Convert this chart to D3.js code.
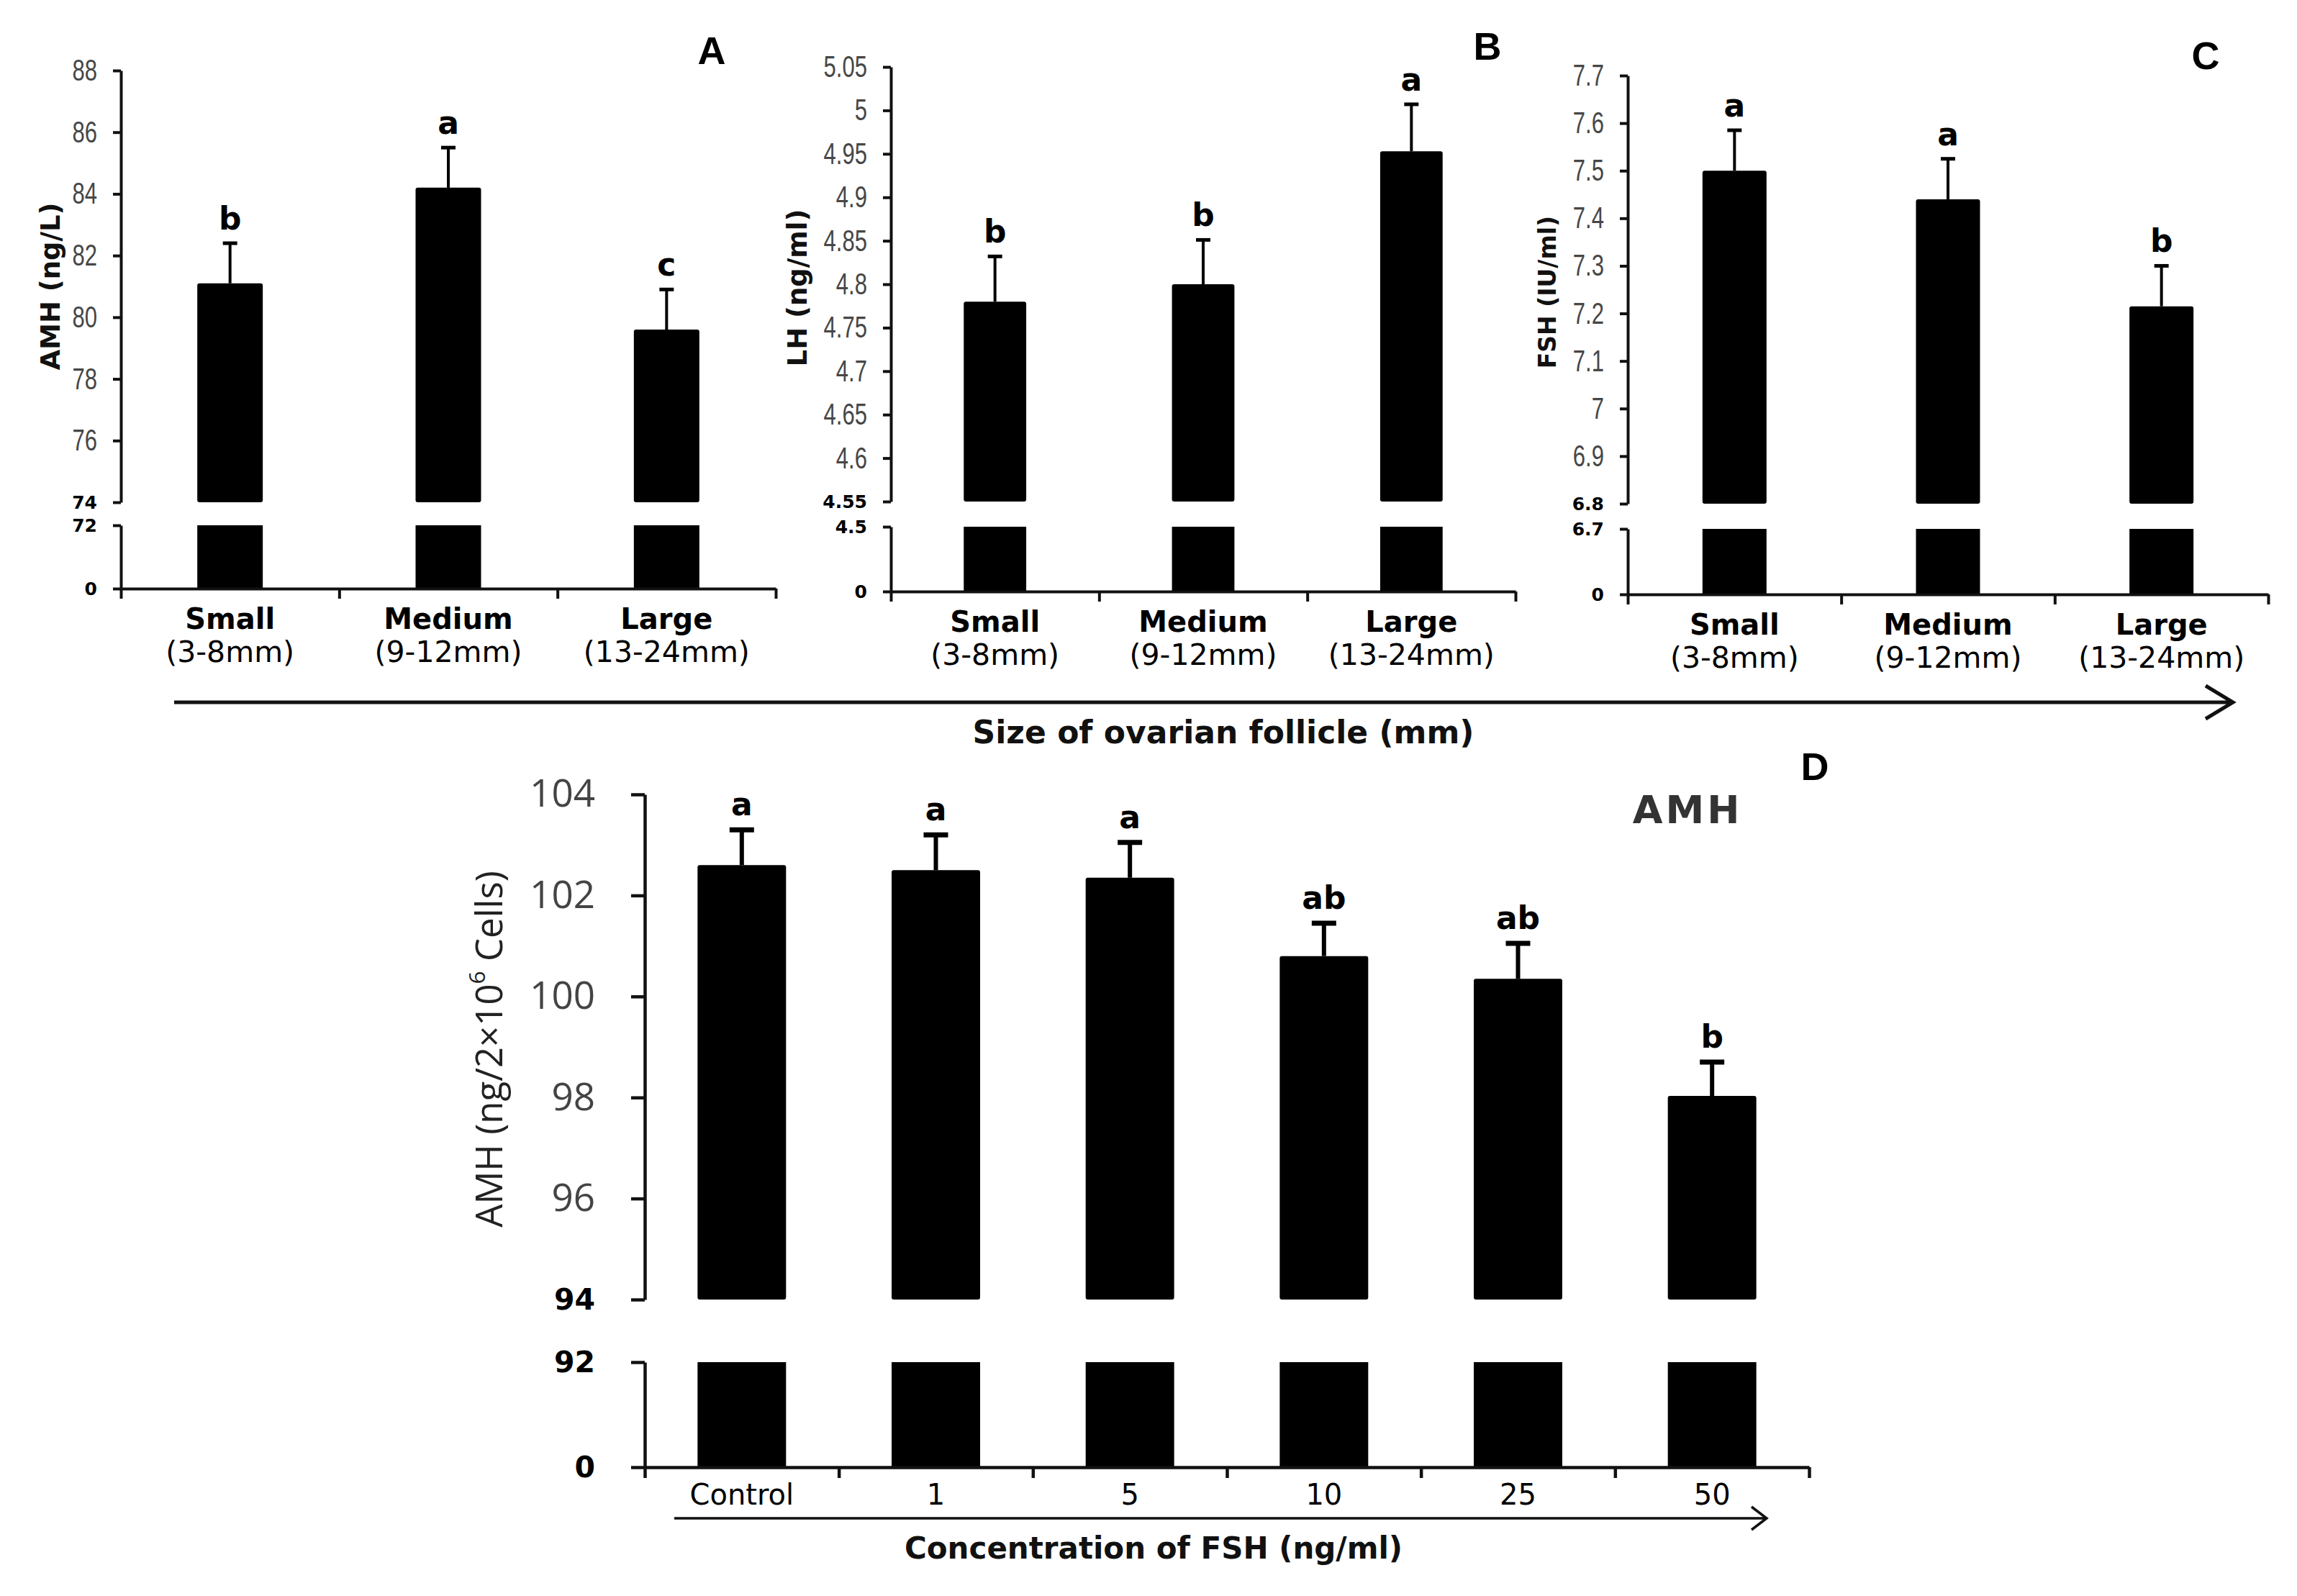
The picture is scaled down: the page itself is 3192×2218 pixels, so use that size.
<!DOCTYPE html>
<html>
<head>
<meta charset="utf-8">
<script src="https://cdn.jsdelivr.net/npm/d3@7/dist/d3.min.js"></script>
<style>
  html, body { margin: 0; padding: 0; background: #fff; }
  svg { display: block; }
</style>
</head>
<body>
<svg id="chart" width="3192" height="2218"></svg>
<script>
// ---------------- DATA ----------------
const sizeCats = ["Small", "Medium", "Large"];
const sizeRanges = ["(3-8mm)", "(9-12mm)", "(13-24mm)"];

const amhA = [81.1, 84.2, 79.6];
const amhAErr = [1.3, 1.3, 1.3];
const amhALetters = ["b", "a", "c"];
const amhATicks = [74, 76, 78, 80, 82, 84, 86, 88];
const amhABreak = [72, 0];

const lhB = [4.78, 4.80, 4.953];
const lhBErr = [0.052, 0.051, 0.054];
const lhBLetters = ["b", "b", "a"];
const lhBTicks = [4.55, 4.6, 4.65, 4.7, 4.75, 4.8, 4.85, 4.9, 4.95, 5, 5.05];
const lhBBreak = [4.5, 0];

const fshC = [7.50, 7.44, 7.215];
const fshCErr = [0.085, 0.085, 0.085];
const fshCLetters = ["a", "a", "b"];
const fshCTicks = [6.8, 6.9, 7, 7.1, 7.2, 7.3, 7.4, 7.5, 7.6, 7.7];
const fshCBreak = [6.7, 0];

const fshConc = ["Control", "1", "5", "10", "25", "50"];
const amhD = [102.6, 102.5, 102.35, 100.8, 100.35, 98.03];
const amhDErr = [0.7, 0.7, 0.7, 0.65, 0.7, 0.67];
const amhDLetters = ["a", "a", "a", "ab", "ab", "b"];
const amhDTicks = [94, 96, 98, 100, 102, 104];
const amhDBreak = [92, 0];

// ---------------- DRAWING ----------------
const svg = d3.select("#chart");
svg.append("rect").attr("width", 3192).attr("height", 2218).attr("fill", "#fff");

const fmt = v => String(+v.toFixed(2));

function drawPanel(o) {
  const g = svg.append("g");
  const n = o.cats.length;
  const x = d3.scaleBand().domain(d3.range(n)).range([o.x0, o.x1]).paddingInner(0).paddingOuter(0);
  const step = x.step();
  const bw = step * o.barFrac;
  const yU = d3.scaleLinear().domain([o.ticks[0], o.ticks[o.ticks.length - 1]]).range([o.yUB, o.yTop]);
  const yL = d3.scaleLinear().domain([0, o.brk[0]]).range([o.yZero, o.yLT]);

  // bars - upper segment
  g.selectAll("rect.bu").data(o.vals).join("rect")
    .attr("x", (d, i) => x(i) + (step - bw) / 2)
    .attr("y", d => yU(d))
    .attr("width", bw)
    .attr("height", d => yU(o.ticks[0]) - yU(d))
    .attr("rx", 3)
    .attr("fill", "#000");
  // bars - lower segment
  g.selectAll("rect.bl").data(o.vals).join("rect")
    .attr("x", (d, i) => x(i) + (step - bw) / 2)
    .attr("y", yL(o.brk[0]))
    .attr("width", bw)
    .attr("height", yL(0) - yL(o.brk[0]))
    .attr("fill", "#000");

  // error bars
  g.selectAll("line.err").data(o.vals).join("line")
    .attr("x1", (d, i) => x(i) + step / 2).attr("x2", (d, i) => x(i) + step / 2)
    .attr("y1", d => yU(d)).attr("y2", (d, i) => yU(d + o.errs[i]))
    .attr("stroke", "#000").attr("stroke-width", o.errW);
  g.selectAll("line.cap").data(o.vals).join("line")
    .attr("x1", (d, i) => x(i) + step / 2 - o.capW / 2).attr("x2", (d, i) => x(i) + step / 2 + o.capW / 2)
    .attr("y1", (d, i) => yU(d + o.errs[i])).attr("y2", (d, i) => yU(d + o.errs[i]))
    .attr("stroke", "#000").attr("stroke-width", o.capT);

  // letters
  g.selectAll("text.let").data(o.letters).join("text")
    .attr("x", (d, i) => x(i) + step / 2)
    .attr("y", (d, i) => yU(o.vals[i] + o.errs[i]) - o.letGap)
    .attr("text-anchor", "middle")
    .attr("font-family", "DejaVu Sans").attr("font-weight", "bold")
    .attr("font-size", o.letSize).attr("fill", "#000")
    .text(d => d);

  // y axis upper
  const axU = g.append("g").attr("transform", `translate(${o.x0},0)`)
    .call(d3.axisLeft(yU).tickValues(o.ticks).tickFormat(fmt).tickSize(o.tickLen).tickSizeOuter(0).tickPadding(o.tickPad));
  // y axis lower
  const axL = g.append("g").attr("transform", `translate(${o.x0},0)`)
    .call(d3.axisLeft(yL).tickValues(o.brk).tickFormat(fmt).tickSize(o.tickLen).tickSizeOuter(0).tickPadding(o.tickPad));
  [axU, axL].forEach(ax => {
    ax.select(".domain").attr("stroke", "#111").attr("stroke-width", o.axW);
    ax.selectAll(".tick line").attr("stroke", "#111").attr("stroke-width", o.axW);
  });
  const off = -(o.tickLen + o.tickPad);
  axU.selectAll(".tick text")
    .attr("font-family", o.tickFont).attr("font-size", o.tickSize)
    .attr("fill", o.tickColor).attr("font-weight", "normal")
    .attr("x", off / o.tickSX).attr("transform", `scale(${o.tickSX},1)`);
  axU.selectAll(".tick text").filter(d => d === o.ticks[0])
    .attr("font-family", "DejaVu Sans").attr("font-weight", "bold")
    .attr("font-size", o.boldSize).attr("fill", "#000")
    .attr("x", off).attr("transform", null);
  axL.selectAll(".tick text")
    .attr("font-family", "DejaVu Sans").attr("font-weight", "bold")
    .attr("font-size", o.boldSize).attr("fill", "#000");

  // x axis
  const xb = d3.scaleLinear().domain([0, n]).range([o.x0, o.x1]);
  const axX = g.append("g").attr("transform", `translate(0,${o.yZero})`)
    .call(d3.axisBottom(xb).tickValues(d3.range(n + 1)).tickFormat("").tickSize(o.xTick).tickSizeOuter(0));
  axX.select(".domain").attr("stroke", "#111").attr("stroke-width", o.axW);
  axX.selectAll(".tick line").attr("stroke", "#111").attr("stroke-width", o.axW);

  // category labels
  g.selectAll("text.cat").data(o.cats).join("text")
    .attr("x", (d, i) => x(i) + step / 2)
    .attr("y", o.yZero + o.catDy)
    .attr("text-anchor", "middle")
    .attr("font-family", "DejaVu Sans").attr("font-weight", o.catBold ? "bold" : "normal")
    .attr("font-size", o.catSize).attr("fill", "#000")
    .text(d => d);
  if (o.subs) {
    g.selectAll("text.sub").data(o.subs).join("text")
      .attr("x", (d, i) => x(i) + step / 2)
      .attr("y", o.yZero + o.subDy)
      .attr("text-anchor", "middle")
      .attr("font-family", "DejaVu Sans").attr("font-size", o.subSize).attr("fill", "#000")
      .text(d => d);
  }

  // y title
  const yt = g.append("text")
    .attr("transform", `translate(${o.ytX},${o.ytY}) rotate(-90)`)
    .attr("text-anchor", "middle").attr("dominant-baseline", "central")
    .attr("font-family", o.ytFont).attr("font-weight", o.ytWeight)
    .attr("font-size", o.ytSize).attr("fill", o.ytColor);
  if (o.ytSup) {
    yt.append("tspan").text(o.ytText[0]);
    yt.append("tspan").attr("dy", -17).attr("font-size", o.ytSize * 0.62).text(o.ytText[1]);
    yt.append("tspan").attr("dy", 17).text(o.ytText[2]);
  } else {
    yt.text(o.ytText);
  }

  // panel letter
  svg.append("text").attr("x", o.pl[0]).attr("y", o.pl[1])
    .attr("text-anchor", "middle").attr("dominant-baseline", "central")
    .attr("font-family", "Liberation Sans").attr("font-weight", "bold")
    .attr("font-size", 54).attr("fill", "#000").text(o.plText);
}

const topCommon = {
  cats: sizeCats, subs: sizeRanges, barFrac: 0.30,
  errW: 4, capW: 20, capT: 5, letGap: 19, letSize: 44,
  tickLen: 11, tickPad: 22, axW: 4,
  tickFont: "'Liberation Sans', Arial, sans-serif", tickSX: 0.74,
  tickSize: 42, tickColor: "#474747", boldSize: 25,
  xTick: 14, catDy: 56, catBold: true, catSize: 40, subDy: 102, subSize: 41,
  ytFont: "DejaVu Sans", ytWeight: "bold", ytColor: "#111"
};

drawPanel(Object.assign({}, topCommon, {
  vals: amhA, errs: amhAErr, letters: amhALetters, ticks: amhATicks, brk: amhABreak,
  x0: 168, x1: 1078, yTop: 98, yUB: 698, yLT: 730, yZero: 818,
  ytX: 70, ytY: 398, ytSize: 37, ytText: "AMH (ng/L)", pl: [989, 70], plText: "A"
}));
drawPanel(Object.assign({}, topCommon, {
  vals: lhB, errs: lhBErr, letters: lhBLetters, ticks: lhBTicks, brk: lhBBreak,
  x0: 1238, x1: 2106, yTop: 93, yUB: 697, yLT: 732, yZero: 822,
  ytX: 1108, ytY: 400, ytSize: 37, ytText: "LH (ng/ml)", pl: [2067, 64], plText: "B"
}));
drawPanel(Object.assign({}, topCommon, {
  vals: fshC, errs: fshCErr, letters: fshCLetters, ticks: fshCTicks, brk: fshCBreak,
  x0: 2262, x1: 3152, yTop: 105, yUB: 700, yLT: 735, yZero: 826,
  ytX: 2150, ytY: 406, ytSize: 33, ytText: "FSH (IU/ml)", pl: [3065, 77], plText: "C"
}));
drawPanel({
  cats: fshConc, subs: null, barFrac: 0.456,
  vals: amhD, errs: amhDErr, letters: amhDLetters, ticks: amhDTicks, brk: amhDBreak,
  x0: 896, x1: 2514, yTop: 1104, yUB: 1806, yLT: 1893, yZero: 2039,
  errW: 6, capW: 34, capT: 7, letGap: 20, letSize: 44,
  tickLen: 19, tickPad: 50, axW: 4.5,
  tickFont: "'Open Sans', 'Noto Sans', sans-serif", tickSX: 1, tickSize: 53, tickColor: "#444", boldSize: 41,
  xTick: 15, catDy: 52, catBold: false, catSize: 40,
  ytFont: "'Open Sans', 'Noto Sans', sans-serif", ytWeight: "normal", ytColor: "#222",
  ytX: 678, ytY: 1458, ytSize: 51, ytSup: true, ytText: ["AMH (ng/2×10", "6", " Cells)"],
  pl: [2522, 1065], plText: "D"
});

// D panel title
svg.append("text").attr("x", 2345).attr("y", 1125)
  .attr("text-anchor", "middle").attr("dominant-baseline", "central")
  .attr("font-family", "DejaVu Sans").attr("font-weight", "bold")
  .attr("font-size", 54).attr("letter-spacing", 4).attr("fill", "#333").text("AMH");

// arrows + axis group titles
function arrow(x0, x1, y, dx, dy, w) {
  svg.append("path")
    .attr("d", `M${x0},${y}H${x1}M${x1 - dx},${y - dy}L${x1},${y}L${x1 - dx},${y + dy}`)
    .attr("fill", "none").attr("stroke", "#111").attr("stroke-width", w)
    .attr("stroke-linejoin", "miter");
}
arrow(242, 3103, 976, 38, 23, 5);
svg.append("text").attr("x", 1700).attr("y", 1033).attr("text-anchor", "middle")
  .attr("font-family", "DejaVu Sans").attr("font-weight", "bold").attr("font-size", 44)
  .attr("fill", "#111").text("Size of ovarian follicle (mm)");

arrow(937, 2455, 2110, 21, 16, 3.5);
svg.append("text").attr("x", 1603).attr("y", 2166).attr("text-anchor", "middle")
  .attr("font-family", "DejaVu Sans").attr("font-weight", "bold").attr("font-size", 42)
  .attr("fill", "#111").text("Concentration of FSH (ng/ml)");
</script>
</body>
</html>
